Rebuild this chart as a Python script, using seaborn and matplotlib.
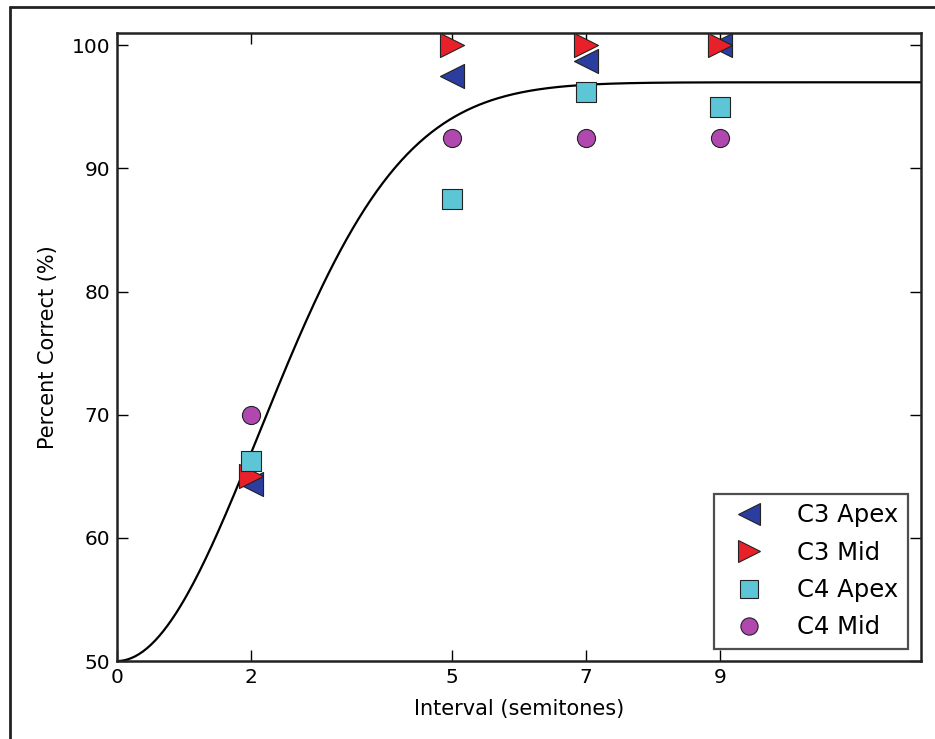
import numpy as np
import pandas as pd
import matplotlib
matplotlib.use("Agg")
import matplotlib.pyplot as plt
from matplotlib.lines import Line2D
import seaborn as sns

# ---- data ----
intervals = [2, 5, 7, 9]
c3_apex = [64.4, 97.5, 98.75, 100.0]
c3_mid = [65.0, 100.0, 100.0, 100.0]
c4_apex = [66.25, 87.5, 96.25, 95.0]
c4_mid = [70.0, 92.5, 92.5, 92.5]
series_names = ["C3 Apex", "C3 Mid", "C4 Apex", "C4 Mid"]

# fitted psychometric function parameters (Weibull-type)
fit_floor = 50.0
fit_ceiling = 97.0
fit_scale = 3.0
fit_shape = 2.0

x_ticks = [0, 2, 5, 7, 9]
y_ticks = [50, 60, 70, 80, 90, 100]

sns.set_theme(style="white")
plt.rcParams["font.family"] = ["DejaVu Sans"]
plt.rcParams["text.color"] = "black"
plt.rcParams["axes.labelcolor"] = "black"

fig = plt.figure(figsize=(9.35, 7.39), dpi=100)
ax = fig.add_axes([0.1251, 0.1055, 0.985 - 0.1251, 0.9553 - 0.1055])

xs = np.linspace(0, 12, 400)
ys = fit_floor + (fit_ceiling - fit_floor) * (1 - np.exp(-(xs / fit_scale) ** fit_shape))
sns.lineplot(x=xs, y=ys, ax=ax, color="black", linewidth=1.6, zorder=2)

styles = {
    "C3 Apex": dict(marker="<", color="#2b3d9e", s=300),
    "C3 Mid": dict(marker=">", color="#e8202a", s=300),
    "C4 Apex": dict(marker="s", color="#5cc6d6", s=190),
    "C4 Mid": dict(marker="o", color="#b048b0", s=170),
}
values = [c3_apex, c3_mid, c4_apex, c4_mid]
handles = []
for name, vals in zip(series_names, values):
    st = styles[name]
    df = pd.DataFrame({"x": intervals, "y": vals})
    sns.scatterplot(data=df, x="x", y="y", ax=ax, marker=st["marker"],
                    color=st["color"], s=st["s"], edgecolor="#222222",
                    linewidth=0.8, zorder=3, clip_on=False)
    handles.append(Line2D([], [], linestyle="none", marker=st["marker"],
                          markerfacecolor=st["color"], markeredgecolor="#222222",
                          markeredgewidth=0.8, markersize=np.sqrt(st["s"]) * 0.95,
                          label=name))

ax.set_xlim(0, 12)
ax.set_ylim(50, 101)
ax.set_xticks(x_ticks)
ax.set_yticks(y_ticks)
ax.tick_params(axis="both", which="major", direction="in", length=8, width=1,
               top=True, right=True, bottom=True, left=True,
               labelsize=14.5, pad=5, colors="black")
for sp in ax.spines.values():
    sp.set_visible(True)
    sp.set_color("#222222")
    sp.set_linewidth(1.8)

ax.set_xlabel("Interval (semitones)", fontsize=15, labelpad=9, color="black")
ax.set_ylabel("Percent Correct (%)", fontsize=15, labelpad=10, color="black")

leg = ax.legend(handles=handles, loc="lower right", fontsize=17.5, numpoints=1,
                frameon=True, fancybox=False, handletextpad=1.0,
                borderpad=0.4, labelspacing=0.55, borderaxespad=0,
                bbox_to_anchor=(0.984, 0.019))
leg.get_frame().set_edgecolor("#222222")
leg.get_frame().set_linewidth(1.6)
for t in leg.get_texts():
    t.set_color("black")

# figure frame (left and top edges)
fig.add_artist(Line2D([10 / 935, 10 / 935], [0, 1 - 7 / 739], transform=fig.transFigure,
                      color="#222222", linewidth=2))
fig.add_artist(Line2D([10 / 935, 1], [1 - 7 / 739, 1 - 7 / 739], transform=fig.transFigure,
                      color="#222222", linewidth=2))

fig.savefig("out.png", dpi=100)
